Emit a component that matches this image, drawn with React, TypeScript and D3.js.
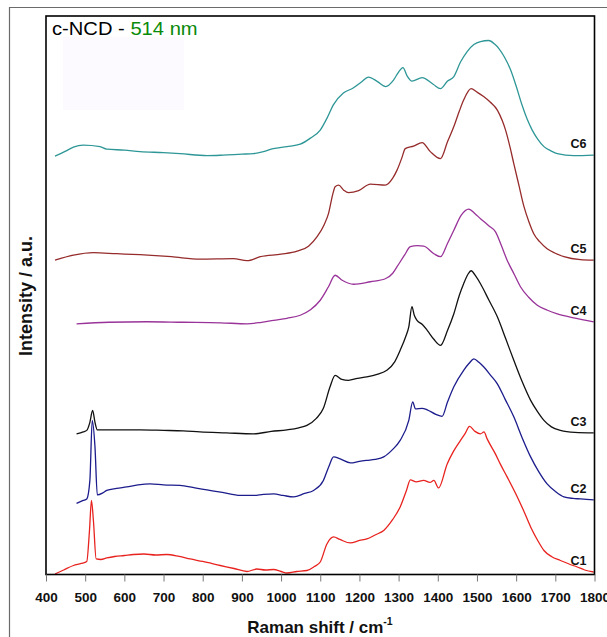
import React, { useRef, useEffect } from "react";
import * as d3 from "d3";

// Raman spectra, [shift cm-1, intensity a.u.]
const c1: [number, number][] = [
  [423, 0.1], [445, 0.9], [470, 1.8], [490, 2.2], [504, 2.6], [511, 8.8], [516, 14.8], [521, 10.8], [528, 3.1],
  [540, 3.0], [555, 3.3], [575, 3.6], [600, 3.8], [623, 4.0], [650, 4.1], [680, 3.9], [708, 4.0], [740, 3.6],
  [768, 3.1], [800, 2.6], [845, 1.8], [880, 1.2], [913, 0.6], [938, 1.1], [960, 0.9], [981, 1.0], [1000, 0.6],
  [1015, 0.3], [1040, 0.6], [1066, 0.8], [1085, 1.6], [1100, 2.5], [1117, 6.1], [1134, 7.5], [1150, 7.0],
  [1177, 6.3], [1200, 6.8], [1219, 7.1], [1240, 7.9], [1262, 8.8], [1285, 11.0], [1304, 13.5], [1320, 16.8],
  [1330, 18.9], [1345, 18.5], [1364, 18.8], [1380, 18.4], [1390, 18.8], [1402, 17.3], [1424, 22.1],
  [1440, 24.6], [1458, 26.8], [1470, 28.2], [1481, 29.6], [1495, 28.6], [1509, 28.1], [1518, 28.5],
  [1526, 27.1], [1547, 24.1], [1560, 22.0], [1577, 19.5], [1603, 15.5], [1620, 12.6], [1637, 9.5],
  [1655, 6.8], [1671, 4.8], [1690, 3.6], [1713, 2.8], [1735, 2.1], [1756, 1.5], [1775, 0.9], [1798, 0.5],
];

const c2: [number, number][] = [
  [478, 14.2], [495, 14.8], [504, 15.1], [512, 18.8], [518, 30.8], [525, 25.5], [531, 15.9], [545, 16.3],
  [555, 16.8], [580, 17.2], [606, 17.5], [635, 17.9], [666, 18.1], [700, 17.9], [742, 17.8], [780, 17.3],
  [811, 16.9], [850, 16.4], [896, 15.8], [930, 15.8], [955, 16.0], [981, 16.1], [1005, 15.8], [1032, 15.5],
  [1060, 16.2], [1083, 16.8], [1108, 18.8], [1122, 21.6], [1134, 23.5], [1151, 23.1], [1177, 22.3],
  [1200, 22.6], [1219, 22.8], [1240, 23.0], [1262, 23.5], [1285, 25.0], [1304, 26.8], [1326, 30.8],
  [1336, 34.5], [1343, 33.1], [1360, 33.2], [1373, 32.9], [1395, 32.0], [1411, 31.6], [1425, 34.5],
  [1441, 37.5], [1466, 40.8], [1480, 42.2], [1492, 43.1], [1505, 42.4], [1517, 41.5], [1535, 39.8],
  [1552, 38.1], [1572, 35.0], [1594, 31.5], [1615, 27.4], [1637, 23.5], [1658, 20.5], [1679, 18.1],
  [1700, 16.6], [1722, 15.5], [1745, 15.2], [1764, 15.1], [1780, 15.0], [1798, 14.9],
];

const c3: [number, number][] = [
  [478, 28.1], [495, 28.5], [504, 28.8], [512, 30.4], [519, 32.8], [525, 30.4], [531, 28.9], [580, 28.9],
  [640, 28.9], [700, 28.8], [750, 28.7], [793, 28.5], [860, 28.3], [930, 28.1], [975, 28.6], [1015, 28.9],
  [1045, 29.3], [1066, 29.8], [1090, 31.2], [1108, 33.2], [1125, 37.5], [1138, 39.8], [1155, 39.0],
  [1172, 38.8], [1195, 39.2], [1219, 39.5], [1245, 40.0], [1270, 40.8], [1290, 42.5], [1304, 44.8],
  [1318, 47.5], [1326, 49.5], [1334, 53.5], [1340, 51.8], [1347, 50.8], [1360, 50.0], [1373, 48.8],
  [1390, 47.0], [1407, 45.8], [1425, 48.8], [1441, 52.1], [1455, 55.8], [1466, 58.1], [1477, 60.0],
  [1485, 60.7], [1497, 59.6], [1509, 58.1], [1530, 54.9], [1552, 51.5], [1573, 47.2], [1594, 42.8],
  [1615, 38.6], [1637, 34.8], [1655, 32.5], [1671, 30.8], [1690, 29.5], [1713, 28.8], [1750, 28.4],
  [1798, 28.3],
];

const c4: [number, number][] = [
  [478, 50.1], [560, 50.4], [657, 50.5], [750, 50.4], [845, 50.3], [913, 50.1], [950, 50.4], [981, 50.8],
  [1015, 51.2], [1049, 51.8], [1075, 52.9], [1100, 54.8], [1121, 57.5], [1138, 59.8], [1156, 58.8],
  [1185, 58.0], [1228, 58.5], [1266, 59.1], [1285, 60.2], [1296, 61.5], [1315, 63.8], [1330, 65.5],
  [1348, 65.7], [1364, 65.6], [1390, 64.1], [1407, 63.5], [1425, 66.2], [1441, 68.8], [1460, 71.8],
  [1479, 73.0], [1495, 72.1], [1509, 71.1], [1530, 69.7], [1547, 68.5], [1562, 65.8], [1577, 62.8],
  [1595, 60.0], [1611, 57.5], [1632, 55.4], [1654, 53.8], [1680, 52.8], [1705, 52.1], [1747, 51.3],
  [1798, 50.5],
];

const c5: [number, number][] = [
  [423, 62.8], [470, 63.8], [521, 64.3], [580, 64.1], [640, 63.9], [720, 63.5], [793, 63.0], [878, 63.1],
  [913, 62.7], [947, 63.5], [1000, 64.0], [1041, 64.6], [1070, 65.6], [1092, 67.5], [1110, 69.9],
  [1121, 72.1], [1132, 76.0], [1138, 77.5], [1147, 77.8], [1160, 76.8], [1172, 76.3], [1198, 76.7],
  [1228, 78.0], [1266, 77.8], [1285, 79.2], [1296, 80.8], [1308, 83.2], [1317, 85.1], [1338, 85.6],
  [1360, 86.3], [1381, 84.5], [1407, 83.1], [1425, 86.5], [1441, 89.5], [1455, 92.6], [1466, 94.8],
  [1485, 97.1], [1500, 96.4], [1517, 95.5], [1535, 94.3], [1552, 92.8], [1565, 90.6], [1573, 88.8],
  [1585, 85.2], [1594, 82.1], [1607, 77.8], [1620, 73.5], [1633, 70.4], [1645, 68.1], [1660, 66.5],
  [1679, 65.1], [1700, 64.2], [1722, 63.5], [1764, 62.9], [1798, 62.8],
];

const c6: [number, number][] = [
  [423, 83.6], [450, 84.6], [470, 85.4], [495, 85.8], [538, 85.5], [555, 85.0], [600, 84.8], [640, 84.5],
  [700, 84.3], [742, 84.1], [811, 83.7], [852, 83.8], [900, 84.0], [929, 84.1], [955, 84.5], [980, 85.1],
  [1015, 85.5], [1049, 86.0], [1075, 87.2], [1100, 88.8], [1118, 91.3], [1133, 93.8], [1159, 96.2],
  [1184, 97.2], [1205, 98.4], [1223, 99.4], [1246, 98.5], [1267, 97.5], [1287, 98.8], [1300, 100.4],
  [1311, 101.3], [1322, 99.6], [1334, 98.6], [1360, 99.3], [1389, 97.9], [1407, 97.1], [1425, 98.6],
  [1441, 99.5], [1458, 102.4], [1475, 104.5], [1492, 105.9], [1509, 106.5], [1530, 106.7], [1545, 106.0],
  [1556, 105.1], [1570, 103.4], [1586, 100.8], [1600, 97.6], [1615, 93.8], [1628, 91.0], [1641, 88.8],
  [1655, 87.0], [1671, 85.5], [1690, 84.6], [1705, 84.1], [1747, 83.7], [1798, 83.8],
];

const seriesNames = ["C1", "C2", "C3", "C4", "C5", "C6"];
const seriesData = [c1, c2, c3, c4, c5, c6];
const seriesColors = ["#e8231f", "#1c1c8c", "#111111", "#993399", "#962b2b", "#2e9696"];
const xTicks = [400, 500, 600, 700, 800, 900, 1000, 1100, 1200, 1300, 1400, 1500, 1600, 1700, 1800];

const App = () => {
  const svgRef = useRef<SVGSVGElement>(null);

  useEffect(() => {
    const svg = d3.select(svgRef.current);
    svg.selectAll("*").remove();

    const W = 607;
    const H = 637;
    const margin = { top: 16, right: 12.5, bottom: 62.5, left: 46 };
    const font = "Arial, 'Liberation Sans', sans-serif";

    const x = d3.scaleLinear().domain([400, 1800]).range([margin.left, W - margin.right]);
    const y = d3.scaleLinear().domain([0, 111.6]).range([H - margin.bottom, margin.top]);

    svg.append("rect").attr("width", W).attr("height", H).attr("fill", "#fff");

    // figure frame (top and left edge)
    svg.append("path")
      .attr("d", `M9.5,${H} V7.5 H${W}`)
      .attr("fill", "none")
      .attr("stroke", "#6b6b6b")
      .attr("stroke-width", 1.2);

    // faint box behind title
    svg.append("rect")
      .attr("x", 63).attr("y", 37).attr("width", 121).attr("height", 73)
      .attr("fill", "#fcf9ff");

    const line = d3.line<[number, number]>()
      .x((d) => x(d[0]))
      .y((d) => y(d[1]))
      .curve(d3.curveMonotoneX);

    seriesData.forEach((s, i) => {
      svg.append("path")
        .datum(s)
        .attr("d", line)
        .attr("fill", "none")
        .attr("stroke", seriesColors[i])
        .attr("stroke-width", 1.3)
        .attr("stroke-linejoin", "round");

      const last = s[s.length - 1];
      svg.append("text")
        .attr("x", x(1800) - 8)
        .attr("y", y(last[1]) - 7)
        .attr("text-anchor", "end")
        .attr("font-family", font)
        .attr("font-weight", "bold")
        .attr("font-size", 12.5)
        .attr("fill", "#111")
        .text(seriesNames[i]);
    });

    // plot box
    svg.append("rect")
      .attr("x", margin.left).attr("y", margin.top)
      .attr("width", W - margin.left - margin.right)
      .attr("height", H - margin.top - margin.bottom)
      .attr("fill", "none")
      .attr("stroke", "#000")
      .attr("stroke-width", 1.6);

    const xAxis = svg.append("g")
      .attr("transform", `translate(0,${H - margin.bottom})`)
      .call(d3.axisBottom(x).tickValues(xTicks).tickSize(7).tickPadding(10.5).tickFormat(d3.format("d")));
    xAxis.select(".domain").remove();
    xAxis.selectAll(".tick line").attr("stroke", "#777");
    xAxis.selectAll("text")
      .attr("font-family", font)
      .attr("font-weight", "bold")
      .attr("font-size", 13.5)
      .attr("fill", "#111");

    const xt = svg.append("text")
      .attr("x", 320).attr("y", 633)
      .attr("text-anchor", "middle")
      .attr("font-family", font)
      .attr("font-weight", "bold")
      .attr("font-size", 17)
      .attr("fill", "#111");
    xt.append("tspan").text("Raman shift / cm");
    xt.append("tspan").attr("dy", -8).attr("font-size", 10.5).text("-1");

    svg.append("text")
      .attr("transform", `translate(31.5,296) rotate(-90)`)
      .attr("text-anchor", "middle")
      .attr("font-family", font)
      .attr("font-weight", "bold")
      .attr("font-size", 18)
      .attr("fill", "#111")
      .text("Intensity / a.u.");

    const title = svg.append("text")
      .attr("transform", "translate(52,35) scale(1.12,1)")
      .attr("font-family", font)
      .attr("font-size", 18)
      .attr("fill", "#000");
    title.append("tspan").text("c-NCD - ");
    title.append("tspan").attr("fill", "#0a8a0a").text("514 nm");
  }, []);

  return (
    <svg
      ref={svgRef}
      width={607}
      height={637}
      style={{ position: "absolute", left: 0, top: 0 }}
    ></svg>
  );
};

export default App;
